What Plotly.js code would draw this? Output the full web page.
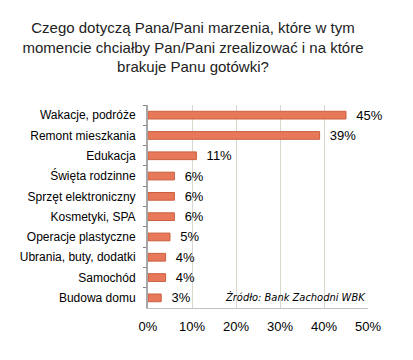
<!DOCTYPE html>
<html><head><meta charset="utf-8">
<script src="https://cdn.plot.ly/plotly-3.0.1.min.js"></script>
<style>html,body{margin:0;padding:0;background:#fff}#c{width:413px;height:360px}</style>
</head><body><div id="c"></div>
<script>
const categories = ["Wakacje, podróże","Remont mieszkania","Edukacja","Święta rodzinne","Sprzęt elektroniczny","Kosmetyki, SPA","Operacje plastyczne","Ubrania, buty, dodatki","Samochód","Budowa domu"];
const values = [45,39,11,6,6,6,5,4,4,3];
const labels = values.map(v => "\u00a0\u00a0" + v + "%");
const xTicks = [0,10,20,30,40,50];

const trace = {
  type: "bar", orientation: "h",
  y: categories, x: values,
  text: labels, textposition: "outside", cliponaxis: false, constraintext: "none",
  textfont: {family: "Liberation Sans, Arial", size: 13, color: "#000"},
  marker: {color: "#E8785A", line: {color: "#C9603F", width: 1}},
  width: 0.38, hoverinfo: "none"
};
const layout = {
  width: 413, height: 360,
  margin: {l: 148, r: 45, t: 105, b: 52},
  paper_bgcolor: "#fff", plot_bgcolor: "#fff",
  showlegend: false,
  font: {family: "Liberation Sans, Arial", size: 12, color: "#000"},
  title: {
    text: "Czego dotyczą Pana/Pani marzenia, które w tym<br>momencie chciałby Pan/Pani zrealizować i na które<br>brakuje Panu gotówki?",
    font: {family: "Liberation Sans, Arial", size: 15, color: "#222"},
    x: 193/413, xanchor: "center", xref: "container",
    y: 1 - 33/360, yanchor: "top", yref: "container"
  },
  xaxis: {
    range: [0, 50], tickvals: xTicks, ticktext: xTicks.map(v => v + "%"),
    showgrid: true, gridcolor: "#D8D8CF", gridwidth: 1,
    zeroline: false, showline: true, linecolor: "#BFBFBF", linewidth: 1,
    ticks: "", tickfont: {size: 13}, ticklabelstandoff: 6, fixedrange: true
  },
  yaxis: {
    categoryorder: "array", categoryarray: categories, autorange: "reversed",
    showgrid: false, zeroline: false, showline: true, linecolor: "#A6A6A6", linewidth: 2,
    ticks: "outside", ticklen: 3, tickcolor: "#808080", tickson: "boundaries",
    tickfont: {size: 12}, ticklabelstandoff: 8, fixedrange: true
  },
  annotations: [{
    text: "<i>Źródło: Bank Zachodni WBK</i>",
    x: 1, xref: "paper", xanchor: "right", y: 0.05, yref: "paper", yanchor: "middle",
    showarrow: false, font: {family: "DejaVu Sans Condensed, Liberation Sans", size: 11, color: "#000"}
  }]
};
Plotly.newPlot("c", [trace], layout, {staticPlot: true, displayModeBar: false});
</script></body></html>
